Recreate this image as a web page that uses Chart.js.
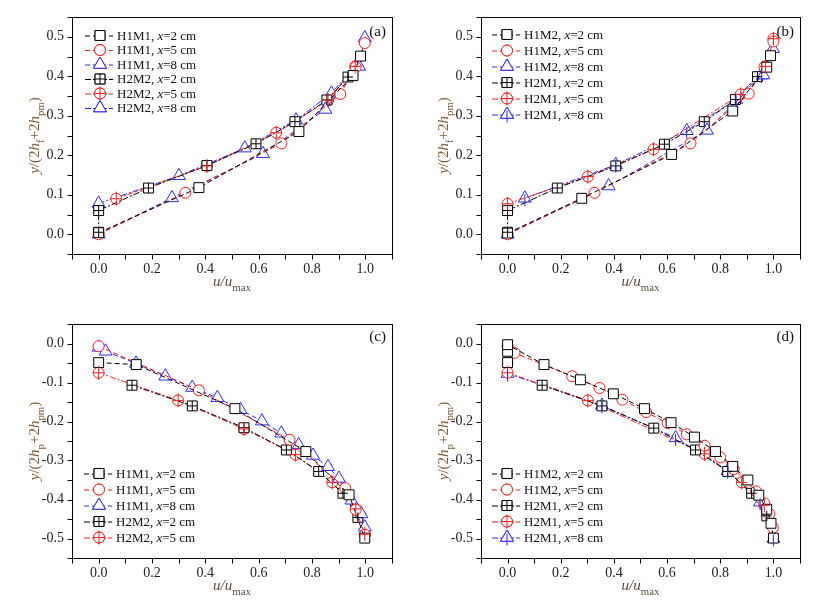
<!DOCTYPE html>
<html>
<head>
<meta charset="utf-8">
<script src="https://cdn.jsdelivr.net/npm/chart.js@4"></script>
<style>
  body { margin: 0; background: #fff; }
  .panel { position: absolute; }
</style>
</head>
<body>
<div class="panel" style="left:0;top:0"><canvas id="cA" width="405" height="300"></canvas></div>
<div class="panel" style="left:410px;top:0"><canvas id="cB" width="408" height="300"></canvas></div>
<div class="panel" style="left:0;top:300px"><canvas id="cC" width="405" height="309"></canvas></div>
<div class="panel" style="left:410px;top:300px"><canvas id="cD" width="408" height="309"></canvas></div>
<script>
// tick labels
const xTicks = [0, 0.2, 0.4, 0.6, 0.8, 1.0];
const yTicksUp = [0, 0.1, 0.2, 0.3, 0.4, 0.5];
const yTicksDown = [-0.5, -0.4, -0.3, -0.2, -0.1, 0];

// (a)  [u/umax, y/(2hf+2hpm)]
const aH1M1x2 = [[0,0.004],[0.376,0.118],[0.751,0.26],[0.954,0.402],[0.982,0.451]];
const aH1M1x5 = [[0,0.0],[0.325,0.105],[0.685,0.23],[0.906,0.355],[0.964,0.423],[0.998,0.484]];
const aH1M1x8 = [[0,0.0],[0.275,0.092],[0.616,0.204],[0.85,0.316],[0.976,0.425],[0.998,0.497]];
const aH2M2x2 = [[0,0.005],[0,0.06],[0.187,0.117],[0.406,0.174],[0.59,0.229],[0.736,0.285],[0.856,0.34],[0.935,0.398]];
const aH2M2x5 = [[0.066,0.09],[0.406,0.173],[0.666,0.257],[0.86,0.339],[0.962,0.425]];
const aH2M2x8 = [[0,0.078],[0.301,0.148],[0.548,0.218],[0.74,0.289],[0.873,0.357],[0.97,0.432]];

// (b)
const bH1M2x2 = [[0,0.003],[0.279,0.091],[0.617,0.202],[0.847,0.312],[0.975,0.423],[0.989,0.452]];
const bH1M2x5 = [[0,0.0],[0.327,0.105],[0.688,0.23],[0.907,0.356],[0.966,0.424],[1.0,0.488]];
const bH1M2x8 = [[0,0.0],[0.38,0.122],[0.75,0.263],[0.962,0.403],[0.998,0.47]];
const bH2M1x2 = [[0,0.005],[0,0.06],[0.187,0.117],[0.407,0.173],[0.59,0.228],[0.74,0.285],[0.857,0.341],[0.94,0.399]];
const bH2M1x5 = [[0,0.077],[0.302,0.146],[0.549,0.215],[0.877,0.354],[0.97,0.425],[1.0,0.495]];
const bH2M1x8 = [[0.065,0.091],[0.407,0.176],[0.674,0.262],[0.86,0.341],[0.955,0.403]];

// (c)  [u/umax, y/(2hp+2hpm)]
const cH1M1x2 = [[0,-0.049],[0.141,-0.054],[0.511,-0.167],[0.777,-0.277],[0.939,-0.388],[0.998,-0.499]];
const cH1M1x5 = [[0,-0.007],[0.376,-0.12],[0.716,-0.247],[0.925,-0.371],[0.964,-0.426],[0.998,-0.49]];
const cH1M1x8 = [[0,-0.01],[0.026,-0.02],[0.14,-0.051],[0.25,-0.084],[0.351,-0.113],[0.445,-0.139],[0.532,-0.17],[0.612,-0.199],[0.685,-0.23],[0.75,-0.26],[0.804,-0.287],[0.86,-0.316],[0.901,-0.346],[0.948,-0.402],[0.985,-0.437],[0.998,-0.471]];
const cH2M2x2 = [[0.125,-0.107],[0.351,-0.16],[0.545,-0.216],[0.704,-0.273],[0.825,-0.328],[0.916,-0.384],[0.972,-0.446]];
const cH2M2x5 = [[0,-0.075],[0.298,-0.146],[0.545,-0.219],[0.738,-0.285],[0.876,-0.356],[0.964,-0.424],[0.998,-0.489]];

// (d)
const dH1M2x2 = [[0,-0.049],[0,-0.02],[0,-0.003],[0.137,-0.054],[0.274,-0.093],[0.398,-0.129],[0.515,-0.167],[0.615,-0.203],[0.703,-0.24],[0.782,-0.277],[0.847,-0.315],[0.904,-0.35],[0.945,-0.389],[0.975,-0.425],[0.991,-0.461],[1.0,-0.499]];
const dH1M2x5 = [[0,-0.006],[0.026,-0.024],[0.243,-0.084],[0.346,-0.114],[0.432,-0.144],[0.521,-0.176],[0.602,-0.204],[0.674,-0.233],[0.741,-0.262],[0.8,-0.292],[0.851,-0.322],[0.935,-0.379],[0.966,-0.41],[0.985,-0.437],[0.998,-0.472]];
const dH2M1x2 = [[0.13,-0.107],[0.355,-0.16],[0.55,-0.217],[0.707,-0.273],[0.828,-0.328],[0.918,-0.384],[0.975,-0.442]];
const dH2M1x5 = [[0,-0.075],[0.302,-0.146],[0.741,-0.283],[0.881,-0.356],[0.966,-0.415]];
const dH2M1x8 = [[0,-0.077],[0.355,-0.159],[0.632,-0.242],[0.828,-0.326],[0.95,-0.407],[1.0,-0.5]];

const SERIF = "'Liberation Serif', 'DejaVu Serif', serif";
const colors = { sq: '#000000', ci: '#ff1a1a', tr: '#2a2aff' };
const styles = { sq: 'rect', ci: 'circle', tr: 'triangle' };
const radius = { sq: 7, ci: 5.5, tr: 7.5 };

function series(label, data, shape, cross, dash) {
  return {
    label: label,
    data: data.map(p => ({ x: p[0], y: p[1] })),
    showLine: true,
    borderColor: colors[shape],
    borderWidth: 1,
    borderDash: dash,
    pointStyle: styles[shape],
    pointRadius: radius[shape],
    pointBorderWidth: 1,
    pointBorderColor: colors[shape],
    pointBackgroundColor: '#fff',
    shape: shape, cross: cross
  };
}

const dashA = [5, 3];
const dashB = [6, 2, 2, 2];

// plus / bar drawn on top of a marker
function crossPath(ctx, shape, x, y) {
  if (shape == 'sq') {
    ctx.moveTo(x, y - 5); ctx.lineTo(x, y + 5);
    ctx.moveTo(x - 5, y); ctx.lineTo(x + 5, y);
  } else if (shape == 'ci') {
    ctx.moveTo(x, y - 7); ctx.lineTo(x, y + 7);
    ctx.moveTo(x - 5.5, y); ctx.lineTo(x + 5.5, y);
  } else {
    ctx.moveTo(x, y - 4); ctx.lineTo(x, y + 8);
  }
}

// draw text made of segments [text, italic, subscript]
function rich(ctx, segs, x, y, size, color) {
  let w = 0;
  const font = (s) => (s[1] ? 'italic ' : '') + (s[2] ? size * 0.72 : size) + 'px ' + SERIF;
  segs.forEach(s => { ctx.font = font(s); w += ctx.measureText(s[0]).width; });
  let cx = x - w / 2;
  ctx.fillStyle = color;
  ctx.textAlign = 'left';
  ctx.textBaseline = 'alphabetic';
  segs.forEach(s => {
    ctx.font = font(s);
    ctx.fillText(s[0], cx, y + (s[2] ? size * 0.3 : 0));
    cx += ctx.measureText(s[0]).width;
  });
}

const decoPlugin = {
  id: 'deco',
  afterDatasetsDraw(chart) {
    const ctx = chart.ctx;
    ctx.save();
    ctx.lineWidth = 1;
    ctx.setLineDash([]);
    chart.data.datasets.forEach((ds, i) => {
      if (!ds.cross) return;
      ctx.strokeStyle = ds.borderColor;
      ctx.beginPath();
      chart.getDatasetMeta(i).data.forEach(pt => crossPath(ctx, ds.shape, pt.x, pt.y));
      ctx.stroke();
    });
    ctx.restore();
  },
  afterDraw(chart) {
    const o = chart.options.plugins.deco;
    const ctx = chart.ctx, a = chart.chartArea;
    const xs = chart.scales.x, ys = chart.scales.y;
    ctx.save();
    ctx.strokeStyle = '#000';
    ctx.lineWidth = 1;
    ctx.setLineDash([]);
    const L = Math.round(a.left) + 0.5, T = Math.round(a.top) + 0.5;
    const R = Math.round(a.right) + 0.5, B = Math.round(a.bottom) + 0.5;
    ctx.strokeRect(L, T, R - L, B - T);
    ctx.beginPath();
    for (let i = -1; i <= 11; i++) {
      const px = Math.round(xs.getPixelForValue(i / 10)) + 0.5;
      ctx.moveTo(px, B); ctx.lineTo(px, B + 5);
    }
    for (let i = Math.round(ys.min * 20); i <= Math.round(ys.max * 20); i++) {
      const py = Math.round(ys.getPixelForValue(i / 20)) + 0.5;
      ctx.moveTo(L, py); ctx.lineTo(L - 5, py);
    }
    ctx.stroke();

    // axis titles
    rich(ctx, [['u/u', true, false], ['max', false, true]], (a.left + a.right) / 2, a.bottom + 32, 15, '#5a4a3a');
    ctx.save();
    ctx.translate(a.left - 33, (a.top + a.bottom) / 2);
    ctx.rotate(-Math.PI / 2);
    rich(ctx, [['y', true, false], ['/(2', false, false], ['h', true, false], [o.sub, false, true],
               ['+2', false, false], ['h', true, false], ['pm', false, true], [')', false, false]], 0, 0, 15, '#7a5a34');
    ctx.restore();

    // panel label
    ctx.font = '15px ' + SERIF;
    ctx.fillStyle = '#111';
    ctx.textAlign = 'right';
    ctx.textBaseline = 'middle';
    ctx.fillText(o.tag, a.right - 6, a.top + o.tagDy);

    // legend
    chart.data.datasets.forEach((ds, i) => {
      const ly = o.legY + i * o.legStep;
      const mx = o.legX;
      ctx.strokeStyle = ds.borderColor;
      ctx.setLineDash(ds.borderDash);
      ctx.beginPath();
      ctx.moveTo(mx - 15, ly + 0.5); ctx.lineTo(mx + 13, ly + 0.5);
      ctx.stroke();
      ctx.setLineDash([]);
      Chart.helpers.drawPoint(ctx, {
        pointStyle: styles[ds.shape], radius: radius[ds.shape], borderWidth: 1
      }, mx, ly);
      ctx.fillStyle = '#fff';
      ctx.fill();
      ctx.stroke();
      if (ds.cross) {
        ctx.beginPath();
        crossPath(ctx, ds.shape, mx, ly);
        ctx.stroke();
      }
      const parts = ds.label.split(', x');
      let tx = mx + 17;
      ctx.fillStyle = '#111';
      ctx.textAlign = 'left';
      ctx.textBaseline = 'middle';
      [[parts[0] + ', ', false], ['x', true], [parts[1], false]].forEach(s => {
        ctx.font = (s[1] ? 'italic ' : '') + '13px ' + SERIF;
        ctx.fillText(s[0], tx, ly + 1);
        tx += ctx.measureText(s[0]).width;
      });
    });
    ctx.restore();
  }
};

function makeChart(id, datasets, yMin, yMax, yTicks, lay, deco) {
  new Chart(document.getElementById(id), {
    type: 'scatter',
    data: { datasets: datasets },
    options: {
      responsive: false,
      animation: false,
      events: [],
      layout: { padding: { top: lay.top, right: lay.right, left: 0, bottom: 0 } },
      plugins: { legend: { display: false }, tooltip: { enabled: false }, deco: deco },
      scales: {
        x: {
          type: 'linear', min: -0.1, max: 1.1,
          afterBuildTicks: s => { s.ticks = xTicks.map(v => ({ value: v })); },
          afterFit: s => { s.height = lay.xH; },
          ticks: { font: { family: SERIF, size: 14 }, color: '#222', padding: 7, maxRotation: 0, autoSkip: false,
                   callback: v => v.toFixed(1) },
          grid: { display: false, drawTicks: false },
          border: { display: false }
        },
        y: {
          type: 'linear', min: yMin, max: yMax,
          afterBuildTicks: s => { s.ticks = yTicks.map(v => ({ value: v })); },
          afterFit: s => { s.width = lay.yW; },
          ticks: { font: { family: SERIF, size: 14 }, color: '#222', padding: 8, autoSkip: false,
                   callback: v => v.toFixed(1) },
          grid: { display: false, drawTicks: false },
          border: { display: false }
        }
      }
    },
    plugins: [decoPlugin]
  });
}

makeChart('cA', [
  series('H1M1, x=2 cm', aH1M1x2, 'sq', false, dashA),
  series('H1M1, x=5 cm', aH1M1x5, 'ci', false, dashA),
  series('H1M1, x=8 cm', aH1M1x8, 'tr', false, dashA),
  series('H2M2, x=2 cm', aH2M2x2, 'sq', true, dashB),
  series('H2M2, x=5 cm', aH2M2x5, 'ci', true, dashB),
  series('H2M2, x=8 cm', aH2M2x8, 'tr', false, dashB)
], -0.05, 0.55, yTicksUp, { top: 17, right: 13, xH: 46, yW: 72 },
  { sub: 'f', tag: '(a)', tagDy: 15, legX: 100, legY: 35.5, legStep: 14.5 });

makeChart('cB', [
  series('H1M2, x=2 cm', bH1M2x2, 'sq', false, dashA),
  series('H1M2, x=5 cm', bH1M2x5, 'ci', false, dashA),
  series('H1M2, x=8 cm', bH1M2x8, 'tr', false, dashA),
  series('H2M1, x=2 cm', bH2M1x2, 'sq', true, dashB),
  series('H2M1, x=5 cm', bH2M1x5, 'ci', true, dashB),
  series('H2M1, x=8 cm', bH2M1x8, 'tr', true, dashB)
], -0.05, 0.55, yTicksUp, { top: 17, right: 18, xH: 46, yW: 71 },
  { sub: 'f', tag: '(b)', tagDy: 15, legX: 97, legY: 34.5, legStep: 16 });

makeChart('cC', [
  series('H1M1, x=2 cm', cH1M1x2, 'sq', false, dashA),
  series('H1M1, x=5 cm', cH1M1x5, 'ci', false, dashA),
  series('H1M1, x=8 cm', cH1M1x8, 'tr', false, dashA),
  series('H2M2, x=2 cm', cH2M2x2, 'sq', true, dashB),
  series('H2M2, x=5 cm', cH2M2x5, 'ci', true, dashB)
], -0.55, 0.05, yTicksDown, { top: 24, right: 13, xH: 51, yW: 72 },
  { sub: 'p', tag: '(c)', tagDy: 13, legX: 99, legY: 173.5, legStep: 16 });

makeChart('cD', [
  series('H1M2, x=2 cm', dH1M2x2, 'sq', false, dashA),
  series('H1M2, x=5 cm', dH1M2x5, 'ci', false, dashA),
  series('H2M1, x=2 cm', dH2M1x2, 'sq', true, dashB),
  series('H2M1, x=5 cm', dH2M1x5, 'ci', true, dashB),
  series('H2M1, x=8 cm', dH2M1x8, 'tr', true, dashB)
], -0.55, 0.05, yTicksDown, { top: 24, right: 18, xH: 51, yW: 71 },
  { sub: 'p', tag: '(d)', tagDy: 13, legX: 97, legY: 173.5, legStep: 16 });
</script>
</body>
</html>
